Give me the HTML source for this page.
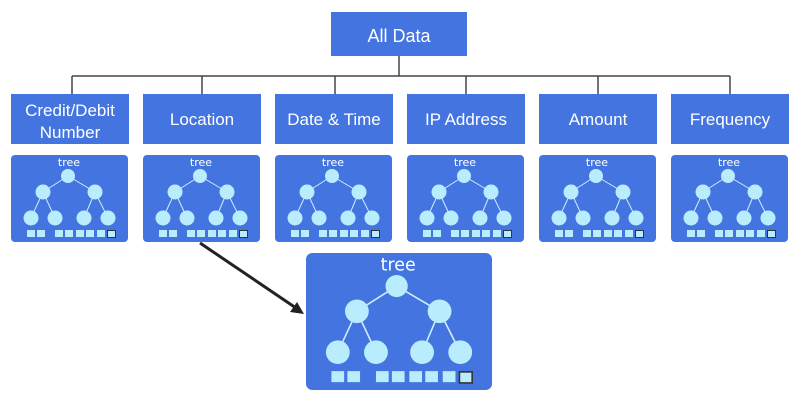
<!DOCTYPE html>
<html><head><style>
html,body{margin:0;padding:0;background:#fff;width:800px;height:401px;overflow:hidden}
</style></head><body>
<svg width="800" height="401" xmlns="http://www.w3.org/2000/svg" font-family="'Liberation Sans','DejaVu Sans',sans-serif">
<defs>
<g id="t">
<rect x="0" y="0" width="117" height="87" rx="4" fill="#4374e0"/>
<text x="58" y="11" text-anchor="middle" font-size="11" fill="#fff" font-family="'DejaVu Sans',sans-serif">tree</text>
<g stroke="#cfefff" stroke-width="1">
<line x1="57" y1="21" x2="32" y2="37"/><line x1="57" y1="21" x2="84" y2="37"/>
<line x1="32" y1="37" x2="20" y2="63"/><line x1="32" y1="37" x2="44" y2="63"/>
<line x1="84" y1="37" x2="73" y2="63"/><line x1="84" y1="37" x2="97" y2="63"/>
</g>
<g fill="#b9ecfd">
<circle cx="57" cy="21" r="7"/><circle cx="32" cy="37" r="7.5"/><circle cx="84" cy="37" r="7.5"/>
<circle cx="20" cy="63" r="7.5"/><circle cx="44" cy="63" r="7.5"/><circle cx="73" cy="63" r="7.5"/><circle cx="97" cy="63" r="7.5"/>
<rect x="16" y="75" width="8" height="7"/><rect x="26" y="75" width="8" height="7"/>
<rect x="44" y="75" width="8" height="7"/><rect x="54" y="75" width="8" height="7"/><rect x="65" y="75" width="8" height="7"/><rect x="75" y="75" width="8" height="7"/><rect x="86" y="75" width="8" height="7"/>
<rect x="96.5" y="75.5" width="8" height="7" stroke="#333" stroke-width="1"/>
</g>
</g>
</defs>
<rect x="331" y="12" width="136" height="44" fill="#4374e0"/>
<text x="399" y="42" text-anchor="middle" font-size="18" fill="#fff">All Data</text>
<g stroke="#444" stroke-width="1.5" fill="none">
<line x1="399" y1="56" x2="399" y2="76"/>
<line x1="72" y1="76" x2="730" y2="76"/>
<line x1="72" y1="76" x2="72" y2="94"/><line x1="202" y1="76" x2="202" y2="94"/><line x1="335" y1="76" x2="335" y2="94"/>
<line x1="466" y1="76" x2="466" y2="94"/><line x1="598" y1="76" x2="598" y2="94"/><line x1="730" y1="76" x2="730" y2="94"/>
</g>
<g fill="#4374e0">
<rect x="11" y="94" width="118" height="50"/><rect x="143" y="94" width="118" height="50"/><rect x="275" y="94" width="118" height="50"/>
<rect x="407" y="94" width="118" height="50"/><rect x="539" y="94" width="118" height="50"/><rect x="671" y="94" width="118" height="50"/>
</g>
<g fill="#fff" font-size="17" text-anchor="middle">
<text x="70" y="116">Credit/Debit</text><text x="70" y="138">Number</text>
<text x="202" y="125">Location</text><text x="334" y="125">Date &amp; Time</text>
<text x="466" y="125">IP Address</text><text x="598" y="125">Amount</text><text x="730" y="125">Frequency</text>
</g>
<use href="#t" x="11" y="155"/><use href="#t" x="143" y="155"/><use href="#t" x="275" y="155"/>
<use href="#t" x="407" y="155"/><use href="#t" x="539" y="155"/><use href="#t" x="671" y="155"/>
<use href="#t" transform="translate(306,253) scale(1.59,1.575)"/>
<line x1="200" y1="243" x2="296" y2="308" stroke="#222" stroke-width="3"/>
<polygon points="304,314 290,312 297,302" fill="#222"/>
</svg>
</body></html>
